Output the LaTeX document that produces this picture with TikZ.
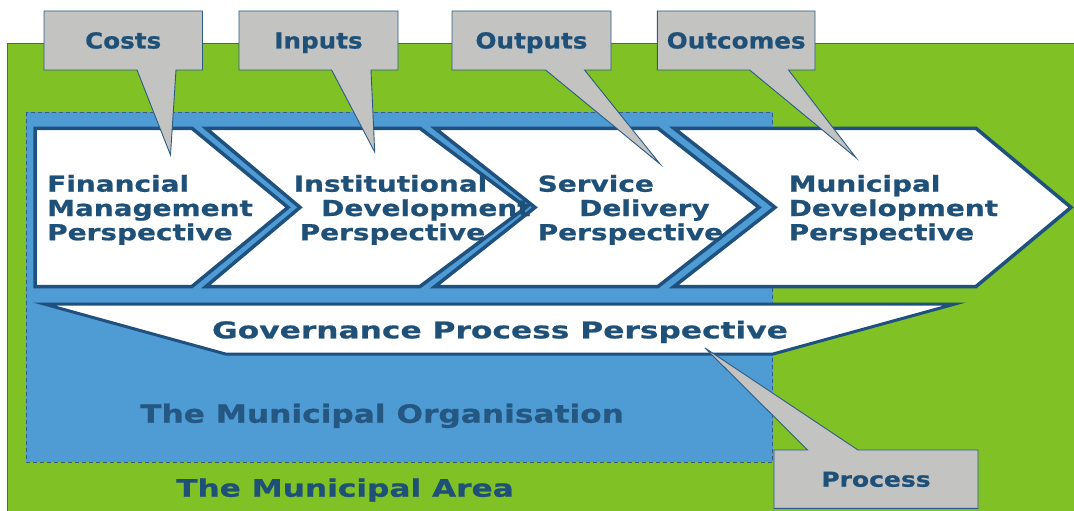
\documentclass[tikz,border=0pt]{standalone}
\usepackage{fontspec}
\setmainfont{DejaVu Sans}
\newfontfamily\fchev{DejaVu Sans}[FakeStretch=1.27, FakeBold=0.8]
\newfontfamily\fcall{DejaVu Sans}[FakeStretch=1.12, FakeBold=0.8]
\newfontfamily\fgov{DejaVu Sans}[FakeStretch=1.36, FakeBold=0.8]
\newfontfamily\forg{DejaVu Sans}[FakeStretch=1.25, FakeBold=0.8]
\newfontfamily\farea{DejaVu Sans}[FakeStretch=1.30, FakeBold=0.8]
\newfontfamily\fproc{DejaVu Sans}[FakeStretch=1.22, FakeBold=0.8]
\definecolor{areagreen}{HTML}{80C226}
\definecolor{orgblue}{HTML}{4F9BD3}
\definecolor{dkblue}{HTML}{1F5078}
\definecolor{chevline}{HTML}{1F5180}
\definecolor{callgray}{HTML}{C3C3C1}
\definecolor{callline}{HTML}{2B5B84}
\definecolor{greenedge}{HTML}{3F6F5A}
\definecolor{dashline}{HTML}{3A5C7A}
\tikzset{
  chev/.style={draw=chevline, fill=white, line width=3.5pt, line join=miter},
  gov/.style={draw=chevline, fill=white, line width=3pt, line join=miter},
  callout/.style={draw=callline, fill=callgray, line width=0.9pt, line join=miter},
  orgbox/.style={draw=dashline, fill=orgblue, line width=0.8pt, dash pattern=on 4pt off 3pt},
  txt/.style={inner sep=0pt, text=dkblue},
  chevtxt/.style={txt, anchor=base west, font=\fchev\bfseries\fontsize{22}{26}\selectfont},
  calltxt/.style={txt, anchor=base, font=\fcall\bfseries\fontsize{22}{26}\selectfont},
}
\begin{document}
\begin{tikzpicture}[x=1pt,y=-1pt]
\useasboundingbox (0,0) rectangle (1074,511);
% municipal area
\fill[areagreen] (7,44) rectangle (1074,511);
\draw[greenedge, line width=1pt] (7,511) -- (7,44) -- (1074,44);
% municipal organisation
\draw[orgbox] (26,112) rectangle (772.5,462);
% chevrons
\draw[chev] (35,128.3) -- (192,128.3) -- (288,207.4) -- (192,286.5) -- (35,286.5) -- cycle;
\draw[chev] (206,128.3) -- (420,128.3) -- (526,207.4) -- (420,286.5) -- (206,286.5) -- (300,207.4) -- cycle;
\draw[chev] (435,128.3) -- (658,128.3) -- (759,207.4) -- (658,286.5) -- (435,286.5) -- (535,207.4) -- cycle;
\draw[chev] (674,128.3) -- (976,128.3) -- (1071,207.4) -- (976,286.5) -- (674,286.5) -- (775,207.4) -- cycle;
% governance banner
\draw[gov] (44,304) -- (955,304) -- (773,354) -- (225.5,354) -- cycle;
% callouts
\draw[callout] (44,11) -- (202.5,11) -- (202.5,70) -- (176,70) -- (170.5,155) -- (137,70) -- (44,70) -- cycle;
\draw[callout] (239,11) -- (398,11) -- (398,70) -- (371,70) -- (374.7,152) -- (331.6,70) -- (239,70) -- cycle;
\draw[callout] (452,11) -- (611,11) -- (611,70) -- (584.5,70) -- (660,164) -- (545.6,70) -- (452,70) -- cycle;
\draw[callout] (657.3,11) -- (815,11) -- (815,70) -- (788.5,70) -- (856,157.7) -- (749.6,70) -- (657.3,70) -- cycle;
\draw[callout] (774,450) -- (807.6,450) -- (705,348) -- (858,450) -- (978,450) -- (978,508.3) -- (774,508.3) -- cycle;
% callout texts
\node[calltxt] (costs) at (123.2,48.5) {Costs};
\node[calltxt] (inputs) at (318.5,48.5) {Inputs};
\node[calltxt] (outputs) at (531.5,48.5) {Outputs};
\node[calltxt] (outcomes) at (736.2,48.5) {Outcomes};
\node[txt, anchor=base, font=\fproc\bfseries\fontsize{20.5}{24}\selectfont] (process) at (876,486.7) {Process};
% chevron texts
\node[chevtxt] (fin1) at (47,191.7) {Financial};
\node[chevtxt] (fin2) at (47,216) {Management};
\node[chevtxt] (fin3) at (47,240.2) {Perspective};
\node[chevtxt] (ins1) at (293.5,191.7) {Institutional};
\node[chevtxt] (ins2) at (321,216) {Development};
\node[chevtxt] (ins3) at (299.5,240.2) {Perspective};
\node[chevtxt] (ser1) at (537.5,191.7) {Service};
\node[chevtxt] (ser2) at (579,216) {Delivery};
\node[chevtxt] (ser3) at (537.5,240.2) {Perspective};
\node[chevtxt] (mun1) at (788.5,191.7) {Municipal};
\node[chevtxt] (mun2) at (788.5,216) {Development};
\node[chevtxt] (mun3) at (788.5,240.2) {Perspective};
% governance text
\node[txt, anchor=base, font=\fgov\bfseries\fontsize{23}{27}\selectfont] (govtxt) at (500,338.3) {Governance Process Perspective};
% organisation and area labels
\node[txt, anchor=base west, font=\forg\bfseries\fontsize{25}{29}\selectfont, text=dkblue!90!orgblue] (org) at (140,422.7) {The Municipal Organisation};
\node[txt, anchor=base west, font=\farea\bfseries\fontsize{24}{28}\selectfont] (area) at (176,496.7) {The Municipal Area};
\end{tikzpicture}
\end{document}
